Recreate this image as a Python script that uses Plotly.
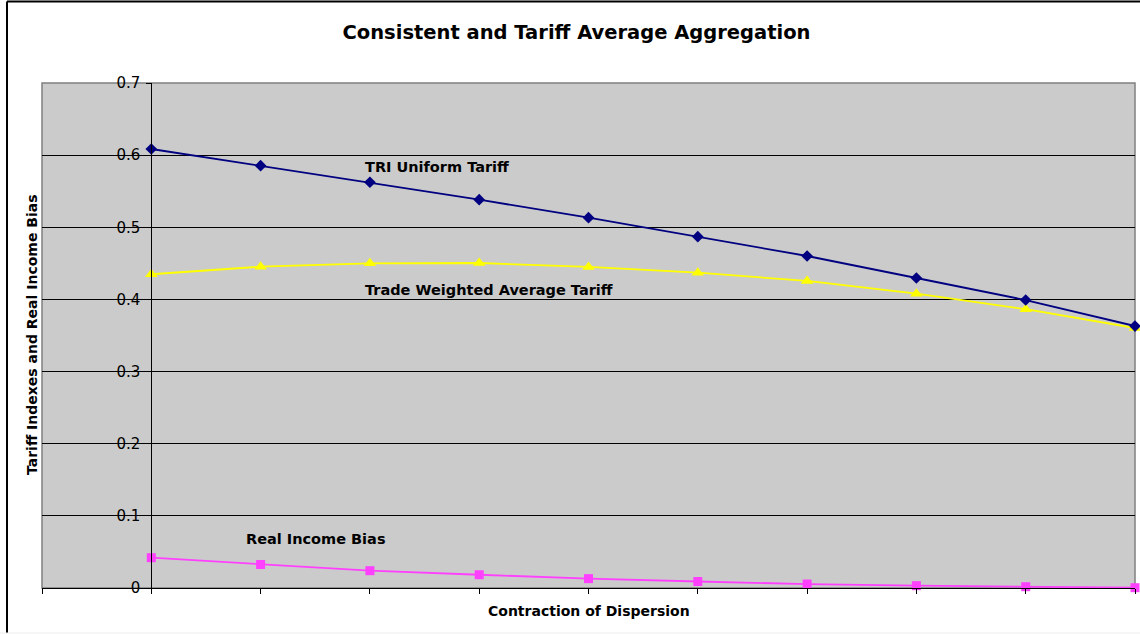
import plotly.graph_objects as go

# ---- data ----
categories = [1, 2, 3, 4, 5, 6, 7, 8, 9, 10]
tri_uniform = [0.6085, 0.5854, 0.5624, 0.5383, 0.5133, 0.4870, 0.4602, 0.4297, 0.3992, 0.3631]
trade_weighted = [0.4349, 0.4454, 0.4501, 0.4505, 0.4450, 0.4371, 0.4256, 0.4080, 0.3865, 0.3604]
real_income_bias = [0.0420, 0.0326, 0.0240, 0.0184, 0.0130, 0.0090, 0.0055, 0.0032, 0.0018, 0.0004]
y_ticks = [0, 0.1, 0.2, 0.3, 0.4, 0.5, 0.6, 0.7]
y_tick_labels = ["0", "0.1", "0.2", "0.3", "0.4", "0.5", "0.6", "0.7"]

FONT = "DejaVu Sans"

fig = go.Figure()
fig.add_trace(go.Scatter(x=categories, y=real_income_bias, mode="lines+markers",
                         line=dict(color="#FF40FF", width=1.8),
                         marker=dict(symbol="square", size=9, color="#FF40FF"),
                         name="Real Income Bias", cliponaxis=False))
fig.add_trace(go.Scatter(x=categories, y=trade_weighted, mode="lines+markers",
                         line=dict(color="#FFFF00", width=1.8),
                         marker=dict(symbol="triangle-up", size=11, color="#FFFF00"),
                         name="Trade Weighted Average Tariff", cliponaxis=False))
fig.add_trace(go.Scatter(x=categories, y=tri_uniform, mode="lines+markers",
                         line=dict(color="#000080", width=1.8),
                         marker=dict(symbol="diamond", size=9, color="#000080"),
                         name="TRI Uniform Tariff", cliponaxis=False))

fig.update_layout(
    width=1140, height=634,
    margin=dict(l=42, r=5, t=83, b=46),
    paper_bgcolor="white",
    plot_bgcolor="#CBCBCB",
    showlegend=False,
    font=dict(family=FONT, color="black", size=14),
    title=dict(text="<b>Consistent and Tariff Average Aggregation</b>",
               x=0.5057, xanchor="center", y=1 - 32 / 634, yanchor="middle",
               font=dict(family=FONT, size=19.5, color="black")),
    xaxis=dict(range=[0, 10], tickvals=list(range(0, 11)), ticks="outside", ticklen=5,
               tickcolor="black", showticklabels=False, showline=True, linecolor="black",
               linewidth=1, showgrid=False, zeroline=False),
    yaxis=dict(range=[0, 0.7], tickvals=y_ticks, ticktext=y_tick_labels,
               anchor="free", position=0.1, ticks="outside", ticklen=5, tickcolor="black",
               ticklabelstandoff=3,
               showline=True, linecolor="black", linewidth=1,
               showgrid=True, gridcolor="black", gridwidth=1, zeroline=False,
               tickfont=dict(family=FONT, size=15, color="black")),
)

# plot area border (grey)
fig.add_shape(type="rect", xref="paper", yref="paper", x0=0, y0=0, x1=1, y1=1,
              line=dict(color="#808080", width=1.5), layer="below")
# outer chart border
fig.add_shape(type="line", xref="paper", yref="paper",
              x0=(7 - 42) / 1093, x1=(1150 - 42) / 1093,
              y0=(588 - 1.5) / 505, y1=(588 - 1.5) / 505,
              line=dict(color="black", width=2))
fig.add_shape(type="line", xref="paper", yref="paper",
              x0=(7 - 42) / 1093, x1=(7 - 42) / 1093,
              y0=(588 - 1.5) / 505, y1=(588 - 633) / 505,
              line=dict(color="black", width=2))
fig.add_shape(type="line", xref="paper", yref="paper",
              x0=(0 - 42) / 1093, x1=(1150 - 42) / 1093,
              y0=(588 - 633) / 505, y1=(588 - 633) / 505,
              line=dict(color="#EEEEEE", width=1))

# axis titles
fig.add_annotation(text="<b>Contraction of Dispersion</b>", xref="paper", yref="paper",
                   x=0.5, y=(588 - 611) / 505, xanchor="center", yanchor="middle",
                   showarrow=False, font=dict(family=FONT, size=14, color="black"))
fig.add_annotation(text="<b>Tariff Indexes and Real Income Bias</b>", xref="paper", yref="paper",
                   x=(32 - 42) / 1093, y=(588 - 335) / 505, xanchor="center", yanchor="middle",
                   textangle=-90, showarrow=False, font=dict(family=FONT, size=14, color="black"))

# series labels
fig.add_annotation(text="<b>TRI Uniform Tariff</b>", x=2.937, y=0.5836, xanchor="left",
                   yanchor="middle", showarrow=False, font=dict(family=FONT, size=14.5, color="black"))
fig.add_annotation(text="<b>Trade Weighted Average Tariff</b>", x=2.937, y=0.4131, xanchor="left",
                   yanchor="middle", showarrow=False, font=dict(family=FONT, size=14.5, color="black"))
fig.add_annotation(text="<b>Real Income Bias</b>", x=1.848, y=0.0679, xanchor="left",
                   yanchor="middle", showarrow=False, font=dict(family=FONT, size=14.5, color="black"))

fig.write_html("out.html", config={"displayModeBar": False},
               post_script="document.body.style.margin='0';document.body.style.overflow='hidden';")
